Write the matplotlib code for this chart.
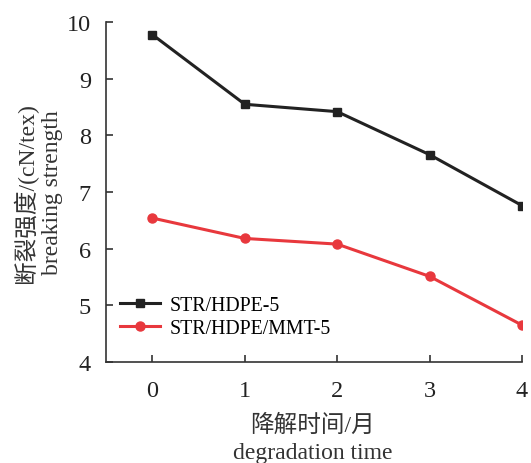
import matplotlib
matplotlib.use("Agg")
import matplotlib.pyplot as plt

plt.rcParams['font.family'] = ['Liberation Serif', 'Noto Sans CJK SC']

months = [0, 1, 2, 3, 4]
str_hdpe = [9.78, 8.55, 8.42, 7.66, 6.76]
str_hdpe_mmt = [6.54, 6.18, 6.08, 5.51, 4.65]
series_names = ["STR/HDPE-5", "STR/HDPE/MMT-5"]
xticks = [0, 1, 2, 3, 4]
yticks = [4, 5, 6, 7, 8, 9, 10]

fig = plt.figure(figsize=(5.31, 4.64), dpi=100)
ax = fig.add_axes([0.2, 0.218, 0.783, 0.732])

ax.plot(months, str_hdpe, color='#222222', lw=2.2, marker='s', ms=5.5, label=series_names[0])
ax.plot(months, str_hdpe_mmt, color='#e8383d', lw=2.2, marker='o', ms=6.5, label=series_names[1])

ax.set_xlim(-0.5, 4)
ax.set_ylim(4, 10)
ax.set_xticks(xticks)
ax.set_yticks(yticks)
for s in ['top', 'right']:
    ax.spines[s].set_visible(False)
for s in ['left', 'bottom']:
    ax.spines[s].set_color('#333333')
    ax.spines[s].set_linewidth(1.2)
ax.tick_params(direction='in', length=5, width=1.2, colors='#333333', labelsize=17.5, labelcolor='#222222')
ax.tick_params(axis='x', pad=13)
ax.tick_params(axis='y', pad=11)

ax.set_ylabel("断裂强度/(cN/tex)\nbreaking strength", fontsize=17, color='#333333', linespacing=1.3)
ax.yaxis.set_label_coords(-0.103, 0.5)
ax.set_xlabel("降解时间/月\ndegradation time", fontsize=17, color='#333333', linespacing=1.4)
ax.xaxis.set_label_coords(0.496, -0.152)

ax.legend(loc='center left', bbox_to_anchor=(0.034, 0.1316), frameon=False, fontsize=14.3,
          handlelength=2.0, handletextpad=0.5, labelspacing=0.2, borderpad=0, borderaxespad=0)

fig.savefig("out.png", dpi=100)
